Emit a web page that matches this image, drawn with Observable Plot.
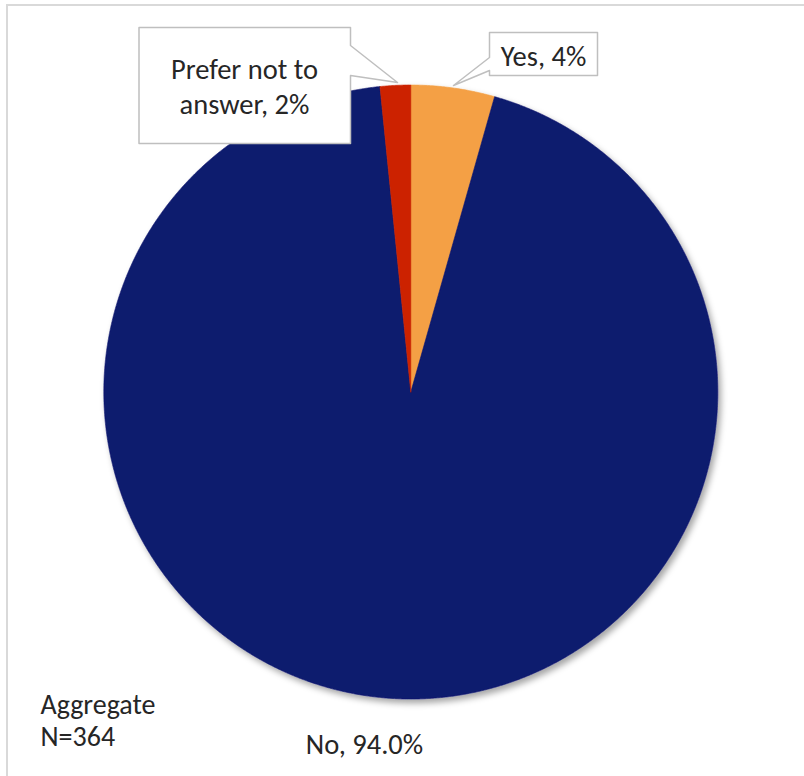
<!DOCTYPE html>
<html><head><meta charset="utf-8">
<script src="https://cdn.jsdelivr.net/npm/d3@7"></script>
<script src="https://cdn.jsdelivr.net/npm/@observablehq/plot@0.6"></script>
<style>
html,body{margin:0;padding:0;overflow:hidden;background:#fff;width:804px;height:776px;}
#frame{position:absolute;left:6px;top:4px;width:900px;height:900px;border:2px solid #d9d9d9;z-index:2;pointer-events:none;}
#chart{position:absolute;left:0;top:0;z-index:1;}
</style></head><body>
<div id="chart"></div><div id="frame"></div>
<script>
// ---- data ----
const categories = ["Yes", "No", "Prefer not to answer"];
const values = [4.4, 94.0, 1.6];
const sliceLabels = ["Yes, 4%", "No, 94.0%", "Prefer not to\nanswer, 2%"];
const colors = ["#F4A044", "#0F1A6E", "#CC2304"];
const noteLines = ["Aggregate", "N=364"];

// ---- layout ----
const W = 804, H = 776, cx = 410.3, cy = 391.5, R = 307;
const font = "Carlito, Lato, 'Open Sans', sans-serif";
const fs = 28.5;

const arcs = d3.pie().sort(null).value(d => d.value)(
  categories.map((c, i) => ({category: c, value: values[i]}))
);
const slicePts = [];
for (const a of arcs) {
  const n = Math.max(2, Math.ceil((a.endAngle - a.startAngle) / 0.005));
  slicePts.push({category: a.data.category, x: cx, y: cy});
  for (let k = 0; k <= n; k++) {
    const t = a.startAngle + (a.endAngle - a.startAngle) * k / n;
    slicePts.push({category: a.data.category, x: cx + R * Math.sin(t), y: cy - R * Math.cos(t)});
  }
  slicePts.push({category: a.data.category, x: cx, y: cy});
}

const callouts = [
  {id: "prefer", pts: [[138.5,27],[350,27],[350,45],[397,82],[350,75],[350,143],[138.5,143],[138.5,27]]},
  {id: "yes", pts: [[489,32],[597,32],[597,75],[489,75],[489,70],[453,85],[489,57],[489,32]]}
];
const calloutPts = callouts.flatMap(c => c.pts.map(([x, y]) => ({id: c.id, x, y})));

const centeredTexts = [
  {text: sliceLabels[2], x: 244, y: 113},
  {text: sliceLabels[0], x: 543, y: 65},
  {text: sliceLabels[1], x: 364, y: 753}
];
const noteTexts = [{text: noteLines.join("\n"), x: 40, y: 745}];

const chart = Plot.plot({
  width: W, height: H, margin: 0,
  style: {fontFamily: font, background: "transparent"},
  x: {domain: [0, W], range: [0, W], axis: null},
  y: {domain: [0, H], range: [0, H], axis: null},
  color: {domain: categories, range: colors},
  marks: [
    Plot.line(slicePts, {x: "x", y: "y", z: "category", fill: "category", stroke: "category", strokeWidth: 0.6, curve: "linear"}),
    Plot.line(calloutPts, {x: "x", y: "y", z: "id", fill: "white", stroke: "#bfbfbf", strokeWidth: 1.5, curve: "linear"}),
    Plot.text(centeredTexts, {x: "x", y: "y", text: "text", textAnchor: "middle", lineAnchor: "bottom", lineHeight: 1.21, fontSize: fs, fill: "#262626"}),
    Plot.text(noteTexts, {x: "x", y: "y", text: "text", textAnchor: "start", lineAnchor: "bottom", lineHeight: 1.14, fontSize: 28, fill: "#262626"})
  ]
});

// drop shadow for the pie
const ns = "http://www.w3.org/2000/svg";
const defs = document.createElementNS(ns, "defs");
defs.innerHTML = '<filter id="pieShadow" x="-10%" y="-10%" width="120%" height="120%"><feDropShadow dx="3" dy="4" stdDeviation="3" flood-color="#000" flood-opacity="0.35"/></filter>';
chart.insertBefore(defs, chart.firstChild);
const pieGroup = chart.querySelector('g[aria-label="line"]');
if (pieGroup) pieGroup.setAttribute("filter", "url(#pieShadow)");

document.getElementById("chart").appendChild(chart);
</script>
</body></html>
